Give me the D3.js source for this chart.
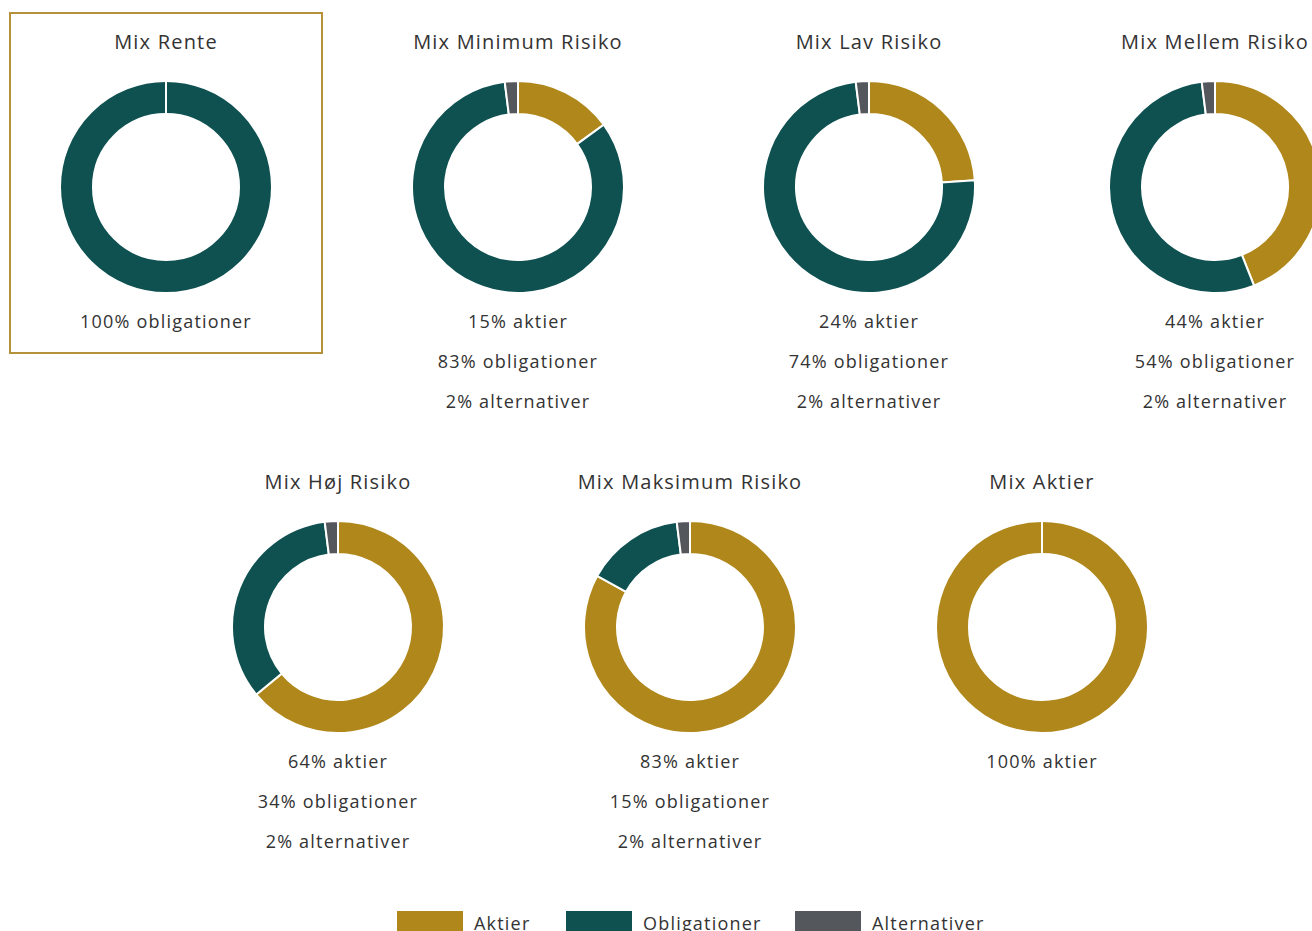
<!DOCTYPE html>
<html><head><meta charset="utf-8">
<script src="https://cdn.jsdelivr.net/npm/d3@7"></script>
<style>
html,body{margin:0;padding:0;background:#fff;overflow:hidden}
svg{display:block;font-family:"Open Sans", Lato, sans-serif}
</style></head>
<body>
<svg id="chart" width="1312" height="931"></svg>
<script>
// ---- data ----
const funds = ["Mix Rente","Mix Minimum Risiko","Mix Lav Risiko","Mix Mellem Risiko","Mix Høj Risiko","Mix Maksimum Risiko","Mix Aktier"];
const aktier = [0,15,24,44,64,83,100];
const obligationer = [100,83,74,54,34,15,0];
const alternativer = [0,2,2,2,2,2,0];
const categories = ["Aktier","Obligationer","Alternativer"];
const labelWords = ["aktier","obligationer","alternativer"];
const colors = ["#B0871B","#0F5151","#54575B"];
const selected = "Mix Rente";

// ---- layout ----
const centersX = [166,518,869,1215,338,690,1042];
const rowY = [187,627];
const rowOf = [0,0,0,0,1,1,1];
const outerR = 106, innerR = 73;

const svg = d3.select("#chart");
const color = d3.scaleOrdinal().domain(categories).range(colors);
const pie = d3.pie().sort(null).value(d=>d.value);
const arc = d3.arc().innerRadius(innerR).outerRadius(outerR);
const series = [aktier, obligationer, alternativer];

funds.forEach((name,i)=>{
  const cx = centersX[i], cy = rowY[rowOf[i]];
  const g = svg.append("g").attr("transform",`translate(${cx},${cy})`);
  const vals = categories.map((c,k)=>({cat:c, value:series[k][i], word:labelWords[k]}));
  if(name===selected){
    svg.append("rect").attr("x",cx-156).attr("y",cy-174).attr("width",312).attr("height",340)
      .attr("fill","none").attr("stroke","#B4913A").attr("stroke-width",2);
  }
  g.append("text").attr("x",0).attr("y",-138).attr("text-anchor","middle")
    .attr("font-size",20).attr("letter-spacing",1.2).attr("fill","#333").text(name);
  g.selectAll("path").data(pie(vals)).join("path")
    .attr("d",arc).attr("fill",d=>color(d.data.cat))
    .attr("stroke","#fff").attr("stroke-width",2);
  vals.filter(v=>v.value>0).forEach((v,j)=>{
    g.append("text").attr("x",0).attr("y",141+j*40).attr("text-anchor","middle")
      .attr("font-size",18).attr("letter-spacing",1.2).attr("fill","#333")
      .text(`${v.value}% ${v.word}`);
  });
});

// legend
const legendX = [397,566,795];
const lg = svg.append("g");
categories.forEach((c,k)=>{
  lg.append("rect").attr("x",legendX[k]).attr("y",911).attr("width",66).attr("height",22).attr("fill",color(c));
  lg.append("text").attr("x",legendX[k]+77).attr("y",930).attr("font-size",18).attr("letter-spacing",1.2)
    .attr("fill","#333").text(c);
});
</script>
</body></html>
